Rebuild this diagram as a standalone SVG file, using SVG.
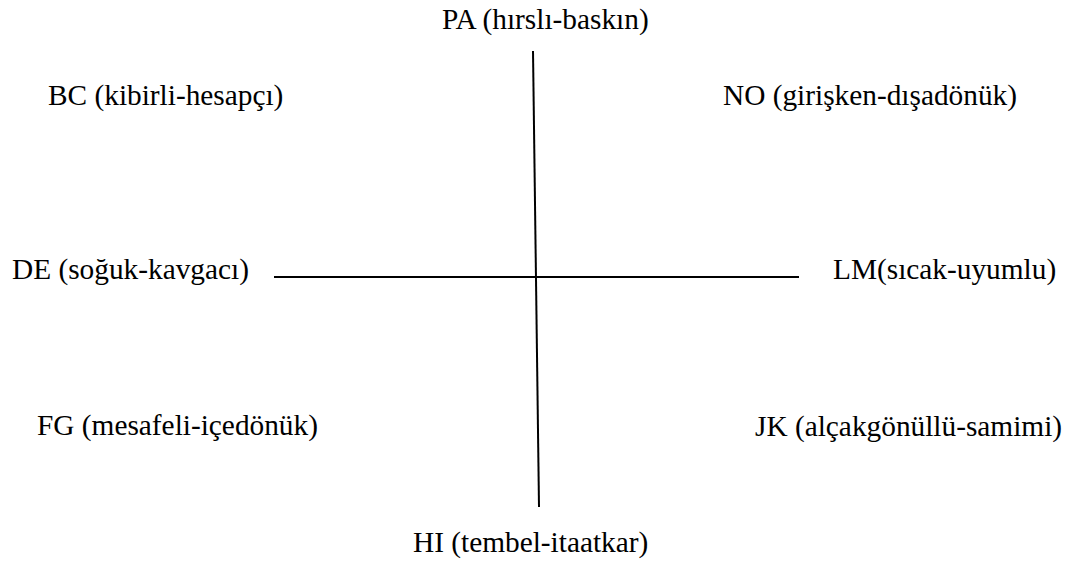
<svg xmlns="http://www.w3.org/2000/svg" width="1072" height="570" viewBox="0 0 1072 570">
<style>
text{font-family:"Liberation Serif","Times New Roman",serif;font-size:29.33px;fill:#000}
.ax{stroke:#000;stroke-width:2;fill:none}
</style>
<rect width="1072" height="570" fill="#fff"/>
<g id="connectors">
<line class="ax" x1="533" y1="51" x2="539" y2="507"/>
<line class="ax" x1="274" y1="277" x2="799" y2="277"/>
</g>
<g id="PA"><text x="442" y="29">PA (hırslı-baskın)</text></g>
<g id="BC"><text x="48" y="105">BC (kibirli-hesapçı)</text></g>
<g id="NO"><text x="723" y="105">NO (girişken-dışadönük)</text></g>
<g id="DE"><text x="12" y="279">DE (soğuk-kavgacı)</text></g>
<g id="LM"><text x="833" y="279">LM(sıcak-uyumlu)</text></g>
<g id="FG"><text x="37" y="435">FG (mesafeli-içedönük)</text></g>
<g id="JK"><text x="755" y="436">JK (alçakgönüllü-samimi)</text></g>
<g id="HI"><text x="413" y="552">HI (tembel-itaatkar)</text></g>
</svg>
